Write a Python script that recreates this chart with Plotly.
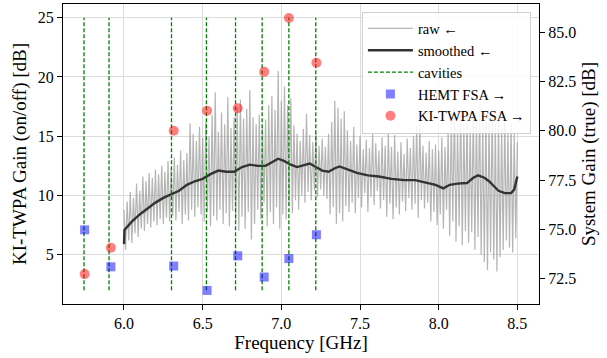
import plotly.graph_objects as go

# ---------------- data ----------------
# raw trace: alternating peaks (6.00, 6.02, ... 8.50) and troughs (6.01, 6.03, ... 8.49)
raw_peaks = [8.8, 9.5, 10.3, 9.8, 11.0, 10.4, 11.6, 11.2, 11.9, 11.5,
             12.2, 11.8, 12.5, 12.0, 12.9, 12.3, 13.2, 12.6, 13.8, 13.0,
             13.6, 16.1, 15.2, 14.6, 15.8, 14.9, 16.2, 15.0, 16.8, 18.7,
             15.4, 17.0, 16.0, 18.3, 15.7, 16.6, 17.4, 18.1, 16.5, 17.3,
             18.9, 16.6, 16.0, 16.8, 15.8, 16.4, 17.6, 18.4, 17.2, 20.5,
             18.0, 19.2, 17.6, 18.2, 15.9, 15.2, 14.6, 15.6, 16.9, 15.1,
             14.5, 15.3, 14.2, 14.8, 14.1, 15.2, 16.2, 18.0, 17.4, 16.5,
             17.1, 15.5, 14.6, 15.8, 14.3, 15.0, 13.9, 14.7, 14.0, 15.2,
             14.4, 13.8, 14.9, 14.2, 15.3, 14.1, 15.1, 13.7, 14.5, 13.5,
             14.8, 14.0, 15.0, 15.9, 16.1, 14.2, 13.6, 14.6, 13.9, 14.3,
             13.8, 14.9, 14.1, 15.4, 16.3, 17.5, 15.6, 17.3, 16.0, 16.9,
             15.8, 17.2, 16.4, 17.6, 16.2, 17.0, 16.5, 17.4, 15.9, 16.8,
             15.6, 16.7, 15.3, 16.1, 15.2, 14.5]
raw_troughs = [5.4, 6.2, 6.0, 6.8, 6.5, 7.2, 7.0, 7.6, 7.3, 7.8,
               7.5, 8.0, 7.6, 8.1, 7.8, 8.3, 7.9, 8.6, 7.6, 8.4,
               7.9, 8.8, 8.2, 9.0, 8.4, 7.8, 8.6, 7.4, 8.3, 7.9,
               8.8, 7.6, 8.5, 7.4, 8.7, 7.8, 7.0, 8.2, 7.2, 8.6,
               6.3, 7.6, 8.8, 8.0, 9.4, 7.4, 8.6, 7.6, 9.0, 7.2,
               8.4, 8.0, 9.2, 8.5, 9.6, 8.8, 10.0, 9.4, 10.3, 9.6,
               10.4, 9.9, 10.5, 10.0, 9.7, 8.4, 9.0, 7.6, 8.5, 7.8,
               9.1, 8.6, 9.4, 8.5, 9.8, 9.0, 10.2, 8.6, 9.9, 9.2,
               10.4, 8.9, 9.6, 8.2, 9.3, 8.0, 9.0, 8.4, 9.5, 8.7,
               9.8, 8.8, 9.3, 8.1, 9.6, 8.9, 9.4, 7.8, 8.6, 7.5,
               8.4, 7.2, 8.8, 6.6, 7.8, 6.1, 7.4, 5.8, 7.0, 6.0,
               6.9, 5.4, 6.5, 5.0, 4.4, 3.7, 5.2, 4.6, 3.6, 4.8,
               5.4, 6.2, 5.6, 5.2, 6.4]
raw_start, raw_step = 6.00, 0.02

smooth_freq = [6.0, 6.003, 6.05, 6.10, 6.15, 6.20, 6.25, 6.30, 6.35, 6.40,
               6.45, 6.50, 6.55, 6.60, 6.65, 6.70, 6.75, 6.80, 6.85, 6.90,
               6.95, 6.98, 7.02, 7.06, 7.10, 7.15, 7.18, 7.22, 7.26, 7.30,
               7.34, 7.37, 7.42, 7.48, 7.55, 7.62, 7.70, 7.78, 7.85, 7.92,
               7.98, 8.03, 8.07, 8.12, 8.18, 8.22, 8.25, 8.29, 8.32, 8.35,
               8.38, 8.42, 8.46, 8.48, 8.50]
smooth_gain = [5.9, 7.1, 7.8, 8.4, 8.9, 9.4, 9.8, 10.1, 10.4, 10.9,
               11.2, 11.4, 11.8, 12.1, 12.0, 12.0, 12.4, 12.6, 12.5, 12.5,
               12.9, 13.1, 12.9, 12.6, 12.4, 12.6, 12.7, 12.4, 12.1, 12.0,
               12.3, 12.45, 12.2, 11.9, 11.7, 11.6, 11.4, 11.3, 11.3, 11.1,
               10.9, 10.6, 10.9, 11.0, 11.05, 11.5, 11.7, 11.5, 11.2, 10.8,
               10.4, 10.2, 10.2, 10.5, 11.6]

cavity_freq = [5.746, 5.905, 6.302, 6.524, 6.709, 6.878, 7.048, 7.219]
cavity_span = [2.0, 25.0]

fsa_freq = [5.750, 5.917, 6.316, 6.528, 6.723, 6.891, 7.048, 7.223]
hemt_fsa = [74.97, 73.09, 73.13, 71.89, 73.65, 72.57, 73.51, 74.72]
twpa_fsa = [72.72, 74.06, 80.01, 81.02, 81.15, 83.00, 85.74, 83.46]

x_ticks = [6.0, 6.5, 7.0, 7.5, 8.0, 8.5]
y_ticks = [5, 10, 15, 20, 25]
y2_ticks = [72.5, 75.0, 77.5, 80.0, 82.5, 85.0]

# ---------------- build ----------------
pts = []
for i, v in enumerate(raw_peaks):
    pts.append((raw_start + raw_step * i, v))
for i, v in enumerate(raw_troughs):
    pts.append((raw_start + raw_step / 2 + raw_step * i, v))
pts.sort()
raw_x = [p[0] for p in pts]
raw_y = [p[1] for p in pts]

cav_x, cav_y = [], []
for f in cavity_freq:
    cav_x += [f, f, None]
    cav_y += [cavity_span[0], cavity_span[1], None]

FONT = "Liberation Serif"
fig = go.Figure()
fig.add_trace(go.Scatter(x=raw_x, y=raw_y, mode="lines", name="raw ←",
                         line=dict(color="rgba(150,150,150,0.7)", width=1.2)))
fig.add_trace(go.Scatter(x=smooth_freq, y=smooth_gain, mode="lines", name="smoothed ←",
                         line=dict(color="#333333", width=2.4)))
fig.add_trace(go.Scatter(x=cav_x, y=cav_y, mode="lines", name="cavities",
                         line=dict(color="green", width=1.3, dash="4px,2px")))
fig.add_trace(go.Scatter(x=fsa_freq, y=hemt_fsa, mode="markers", name="HEMT FSA →",
                         yaxis="y2",
                         marker=dict(symbol="square", size=9, color="rgba(0,0,255,0.5)",
                                     line=dict(width=0))))
fig.add_trace(go.Scatter(x=fsa_freq, y=twpa_fsa, mode="markers", name="KI-TWPA FSA →",
                         yaxis="y2",
                         marker=dict(symbol="circle", size=10, color="rgba(255,0,0,0.5)",
                                     line=dict(width=0))))

fig.update_layout(
    width=607, height=358,
    margin=dict(l=63, r=68, t=4, b=54),
    paper_bgcolor="white", plot_bgcolor="white",
    font=dict(family=FONT, size=16, color="black"),
    showlegend=True,
    legend=dict(x=0.983, xanchor="right", y=0.975, yanchor="top",
                bgcolor="rgba(255,255,255,0.85)", bordercolor="#d0d0d0", borderwidth=1,
                font=dict(family=FONT, size=14.5), tracegroupgap=0, itemwidth=45),
    xaxis=dict(range=[5.6125, 8.6375], tickvals=x_ticks,
               ticktext=[f"{t:.1f}" for t in x_ticks],
               showgrid=True, gridcolor="#dcdcdc", gridwidth=1,
               showline=True, linecolor="black", linewidth=1.3, mirror=True,
               ticks="outside", ticklen=5, tickcolor="black",
               zeroline=False, automargin=False,
               title=dict(text="Frequency [GHz]", standoff=4)),
    yaxis=dict(range=[0.85, 26.15], tickvals=y_ticks,
               showgrid=True, gridcolor="#dcdcdc", gridwidth=1,
               showline=True, linecolor="black", linewidth=1.3,
               ticks="outside", ticklen=5, tickcolor="black",
               zeroline=False, automargin=False,
               title=dict(text="KI-TWPA Gain (on/off) [dB]", standoff=6)),
    yaxis2=dict(range=[71.2, 86.45], tickvals=y2_ticks,
                ticktext=[f"{t:.1f}" for t in y2_ticks],
                overlaying="y", side="right", showgrid=False,
                showline=True, linecolor="black", linewidth=1.3,
                ticks="outside", ticklen=5, tickcolor="black",
                zeroline=False, automargin=False,
                title=dict(text="System Gain (true) [dB]", standoff=6)),
)

fig.write_html("out.html", config={"displayModeBar": False},
               post_script="document.body.style.margin='0';")
